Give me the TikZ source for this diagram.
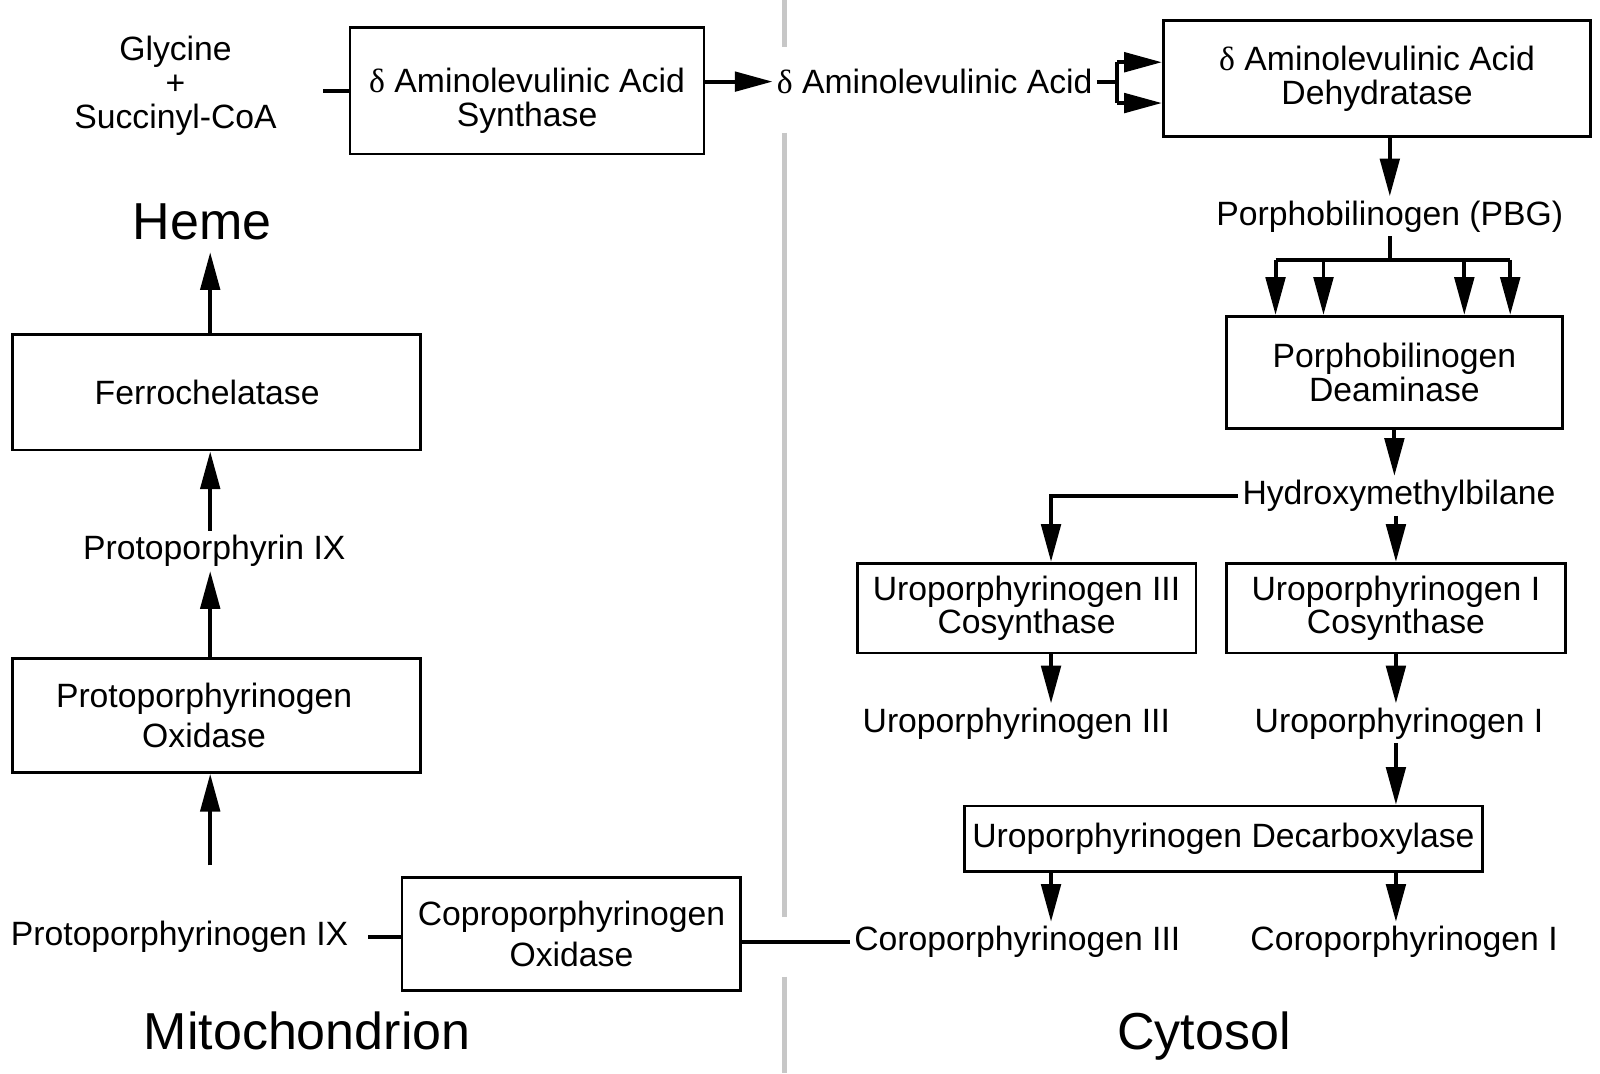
\documentclass[tikz,border=0pt]{standalone}
\usepackage{fontspec}
\setmainfont{Liberation Sans}
\newfontfamily\deltafont{Liberation Serif}
\usetikzlibrary{arrows.meta,positioning}

\newcommand{\dlt}{{\deltafont δ}}

\begin{document}
\begin{tikzpicture}[
font=\fontsize{9.4}{9.4}\selectfont,
enzyme/.style={draw,line width=0.75pt,align=center,inner sep=0pt},
metab/.style={align=center,inner sep=1pt},
region/.style={font=\fontsize{14.5}{16}\selectfont},
flow/.style={-{Triangle[length=0.37cm,width=0.19cm]},line width=1.1pt},
link/.style={line width=1.1pt},
divider/.style={line width=0.05cm,color=black!22}]
    \useasboundingbox (0,0) rectangle (15.68,-10.52);

    % Membrane
    \draw[divider] (7.69,0) -- (7.69,-0.46)
        (7.69,-1.30) -- (7.69,-8.99)
        (7.69,-9.57) -- (7.69,-10.52);

    % Mitochondrion
    \node[metab] (gly) at (1.72,-0.84) {Glycine\\+\\Succinyl-CoA};
    \node[enzyme,minimum width=3.47cm,minimum height=1.24cm] (synth) at (5.165,-0.89)
        {\rule{0pt}{12.5pt}\dlt\ Aminolevulinic Acid\\Synthase};
    \node[region] (heme) at (1.98,-2.17) {Heme};
    \node[enzyme,minimum width=4.00cm,minimum height=1.13cm] (ferro) at (2.12,-3.845)
        {\rule{0pt}{4pt}Ferrochelatase\hspace*{0.18cm}};
    \node[metab] (proto) at (2.10,-5.40) {Protoporphyrin IX};
    \node[enzyme,minimum width=4.00cm,minimum height=1.12cm] (protox) at (2.12,-7.01)
        {Protoporphyrinogen\hspace*{0.24cm}\\[1.9pt]Oxidase\hspace*{0.24cm}};
    \node[metab] (protogen) at (1.76,-9.18) {Protoporphyrinogen IX};
    \node[enzyme,minimum width=3.32cm,minimum height=1.11cm] (coprox) at (5.60,-9.155)
        {Coproporphyrinogen\\[1.9pt]Oxidase};
    \node[region] (mito) at (3.01,-10.10) {Mitochondrion};

    % Cytosol
    \node[metab] (ala) at (9.16,-0.80) {\dlt\ Aminolevulinic Acid};
    \node[enzyme,minimum width=4.19cm,minimum height=1.14cm] (dehyd) at (13.495,-0.77)
        {\dlt\ Aminolevulinic Acid\\Dehydratase};
    \node[metab] (pbg) at (13.62,-2.12) {Porphobilinogen (PBG)};
    \node[enzyme,minimum width=3.29cm,minimum height=1.10cm] (deam) at (13.665,-3.65)
        {Porphobilinogen\\Deaminase};
    \node[metab] (hmb) at (13.71,-4.86) {Hydroxymethylbilane};
    \node[enzyme,minimum width=3.32cm,minimum height=0.88cm] (uro3cos) at (10.06,-5.96)
        {Uroporphyrinogen III\\Cosynthase};
    \node[enzyme,minimum width=3.32cm,minimum height=0.88cm] (uro1cos) at (13.68,-5.96)
        {Uroporphyrinogen I\\Cosynthase};
    \node[metab] (uro3) at (9.96,-7.09) {Uroporphyrinogen III};
    \node[metab] (uro1) at (13.71,-7.09) {Uroporphyrinogen I};
    \node[enzyme,minimum width=5.08cm,minimum height=0.64cm] (decarb) at (11.99,-8.22)
        {Uroporphyrinogen Decarboxylase};
    \node[metab] (copro3) at (9.97,-9.23) {Coroporphyrinogen III};
    \node[metab] (copro1) at (13.76,-9.23) {Coroporphyrinogen I};
    \node[region] (cyto) at (11.80,-10.15) {Cytosol};

    % Top row
    \draw[link] (synth.west) -- ++(-0.25,0);
    \draw[flow] (ala.west -| synth.east) -- (ala.west);
    \draw[link] (ala.east) -- ++(0.2,0) coordinate (br);
    \draw[link] (br |- 0,-0.61) -- (br |- 0,-1.01);
    \draw[flow] (br |- 0,-0.61) -- (dehyd.west |- 0,-0.61);
    \draw[flow] (br |- 0,-1.01) -- (dehyd.west |- 0,-1.01);

    % Cytosol pathway
    \draw[flow] (dehyd.south -| pbg.north) -- (pbg.north);
    \draw[link] (pbg.south) -- ++(0,-0.23) coordinate (fan);
    \draw[link] (12.50,0 |- fan) -- (14.80,0 |- fan);
    \foreach \x in {12.50,12.97,14.35,14.80}
        \draw[flow] (\x,0 |- fan) -- (\x,0 |- deam.north);
    \draw[flow] (deam.south) -- (deam.south |- hmb.north);
    \draw[flow] (hmb.west) -| ([xshift=0.24cm]uro3cos.north);
    \draw[flow] (hmb.south -| uro1cos.north) -- (uro1cos.north);
    \draw[flow] ([xshift=0.24cm]uro3cos.south) -- ([xshift=0.24cm]uro3cos.south |- uro3.north);
    \draw[flow] (uro1cos.south) -- (uro1cos.south |- uro1.north);
    \draw[flow] (uro1.south -| uro1cos.south) -- (uro1cos.south |- decarb.north);
    \draw[flow] (decarb.south -| 10.30,0) -- (10.30,0 |- copro3.north);
    \draw[flow] (decarb.south -| uro1cos.south) -- (uro1cos.south |- copro1.north);

    % Back into the mitochondrion
    \draw[link] (copro3.west) -- (copro3.west -| coprox.east);
    \draw[link] (protogen.east -| coprox.west) -- ++(-0.32,0);
    \coordinate (up0) at (2.06,-8.48);
    \draw[flow] (up0) -- (up0 |- protox.south);
    \draw[flow] (up0 |- protox.north) -- (up0 |- proto.south);
    \draw[flow] (up0 |- proto.north) -- (up0 |- ferro.south);
    \draw[flow] (up0 |- ferro.north) -- (up0 |- heme.south);
\end{tikzpicture}
\end{document}
